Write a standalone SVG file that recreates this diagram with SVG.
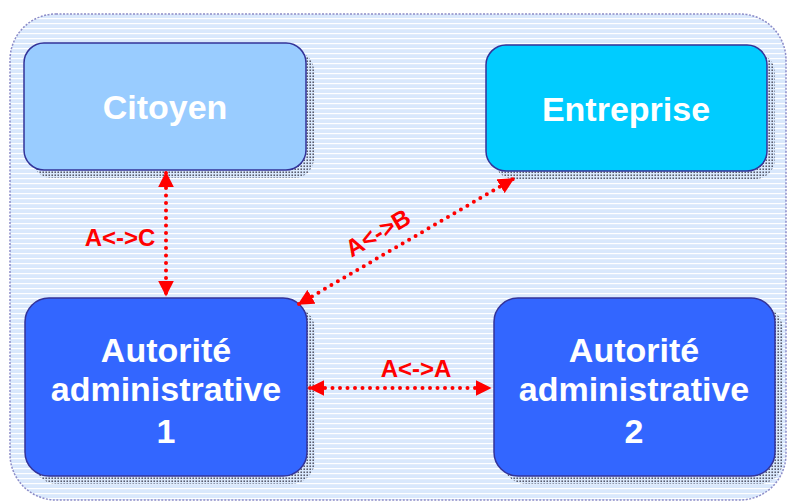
<svg xmlns="http://www.w3.org/2000/svg" width="788" height="503" viewBox="0 0 788 503">
<defs>
<pattern id="stripes" width="6" height="5" patternUnits="userSpaceOnUse">
<rect width="6" height="5" fill="#d9e8fc"/>
<rect y="3" width="6" height="1.2" fill="#ffffff"/>
</pattern>
<pattern id="dots" width="3" height="3" patternUnits="userSpaceOnUse">
<rect width="3" height="3" fill="#d9e8fc"/>
<rect x="0.5" y="0.5" width="1.4" height="1.4" fill="#3a3a4a"/>
</pattern>
<marker id="ah" viewBox="0 0 10 10" refX="9" refY="5" markerWidth="4" markerHeight="4" orient="auto-start-reverse" markerUnits="strokeWidth">
<path d="M0,0 L10,5 L0,10 z" fill="#ff0000"/>
</marker>
</defs>
<style>
.box{stroke:#333399;stroke-width:1.5}
.shadow{fill:url(#dots)}
.t{font-family:"Liberation Sans",Arial,sans-serif;font-weight:bold;fill:#ffffff;text-anchor:middle;font-size:34px}
.lbl{font-family:"Liberation Sans",Arial,sans-serif;font-weight:bold;fill:#ff0000;text-anchor:middle;font-size:24px}
.con{stroke:#ff0000;stroke-width:4;stroke-dasharray:0 7.5;stroke-linecap:round;fill:none}
</style>
<rect width="788" height="503" fill="#ffffff"/>
<rect x="10" y="14" width="776" height="486" rx="46" ry="46" fill="url(#stripes)" stroke="#8c8cc8" stroke-width="1.5" stroke-dasharray="2 1.5"/>
<g id="citoyen">
<rect class="shadow" x="32" y="51" width="282" height="127" rx="20"/>
<rect class="box" x="24" y="43" width="282" height="127" rx="20" fill="#99ccff"/>
<text class="t" x="165" y="119">Citoyen</text>
</g>
<g id="entreprise">
<rect class="shadow" x="494" y="53" width="281" height="126" rx="20"/>
<rect class="box" x="486" y="45" width="281" height="126" rx="20" fill="#00ccff"/>
<text class="t" x="626" y="121">Entreprise</text>
</g>
<g id="autorite1">
<rect class="shadow" x="33" y="306" width="282" height="178" rx="24"/>
<rect class="box" x="25" y="298" width="282" height="178" rx="24" fill="#3366ff"/>
<text class="t" x="166" y="362">Autorité</text>
<text class="t" x="166" y="401">administrative</text>
<text class="t" x="166" y="443">1</text>
</g>
<g id="autorite2">
<rect class="shadow" x="502" y="306" width="281" height="178" rx="24"/>
<rect class="box" x="494" y="298" width="281" height="178" rx="24" fill="#3366ff"/>
<text class="t" x="634" y="362">Autorité</text>
<text class="t" x="634" y="401">administrative</text>
<text class="t" x="634" y="443">2</text>
</g>
<g id="connectors">
<line class="con" x1="166" y1="173" x2="166" y2="295" marker-start="url(#ah)" marker-end="url(#ah)"/>
<line class="con" x1="299" y1="304" x2="513" y2="179" marker-start="url(#ah)" marker-end="url(#ah)"/>
<line class="con" x1="310" y1="388" x2="490" y2="388" marker-start="url(#ah)" marker-end="url(#ah)"/>
<text class="lbl" x="120" y="246">A&lt;-&gt;C</text>
<text class="lbl" x="416" y="377">A&lt;-&gt;A</text>
<text class="lbl" transform="translate(382,240) rotate(-30)">A&lt;-&gt;B</text>
</g>
</svg>
